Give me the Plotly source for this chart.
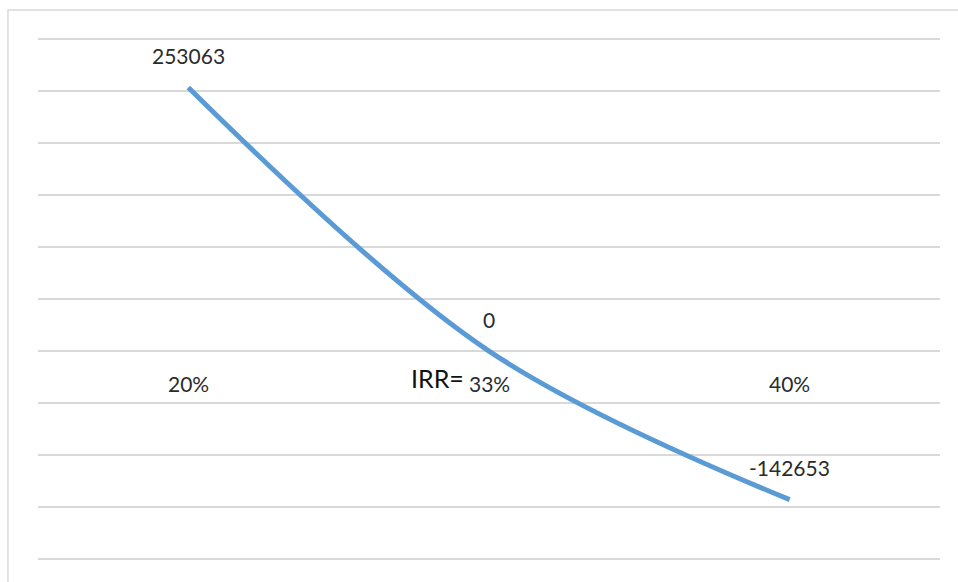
import plotly.graph_objects as go

# IRR chart: NPV at three discount rates
rates = ["20%", "33%", "40%"]
npv = [253063, 0, -142653]
irr_label = "IRR="
irr_index = 1

xs = list(range(len(rates)))
font_family = "Lato, 'Open Sans', sans-serif"
text_color = "#2b2b2b"
label_size = 21

fig = go.Figure()
fig.add_trace(go.Scatter(
    x=xs, y=npv, mode="lines",
    line=dict(color="#5B9BD5", width=5, shape="spline", smoothing=1.0),
    hoverinfo="skip", showlegend=False,
))

annotations = []
# value labels above each point
for x, v in zip(xs, npv):
    annotations.append(dict(
        x=x, y=v, xref="x", yref="y", text=str(v), showarrow=False,
        yshift=32, font=dict(family=font_family, size=label_size, color=text_color),
    ))
# category labels sitting just below the zero line
for x, r in zip(xs, rates):
    annotations.append(dict(
        x=x, y=0, xref="x", yref="y", text=r, showarrow=False,
        yshift=-32, font=dict(family=font_family, size=label_size, color=text_color),
    ))
annotations.append(dict(
    x=irr_index, y=0, xref="x", yref="y", text=irr_label, showarrow=False,
    xshift=-52, yshift=-27, font=dict(family=font_family, size=25, color="#111111"),
))

# small padding so the outermost gridlines are drawn inside the plot area
pad = 2500
fig.update_layout(
    width=958, height=582,
    margin=dict(l=38, r=18, t=36, b=20),
    paper_bgcolor="white", plot_bgcolor="white",
    xaxis=dict(range=[-0.5, len(rates) - 0.5], showgrid=False, zeroline=False,
               showticklabels=False, showline=False, fixedrange=True),
    yaxis=dict(range=[-200000 - pad, 300000 + pad], tick0=0, dtick=50000,
               showgrid=True, gridcolor="#D9D9D9", gridwidth=1.6, zeroline=False,
               showticklabels=False, showline=False, fixedrange=True),
    annotations=annotations,
    shapes=[dict(type="rect", xref="paper", yref="paper",
                 x0=-0.0333, x1=1.2, y0=-0.3, y1=1.0494,
                 line=dict(color="#D9D9D9", width=1.5), layer="below")],
)

fig.write_html("out.html", config={"displayModeBar": False})
